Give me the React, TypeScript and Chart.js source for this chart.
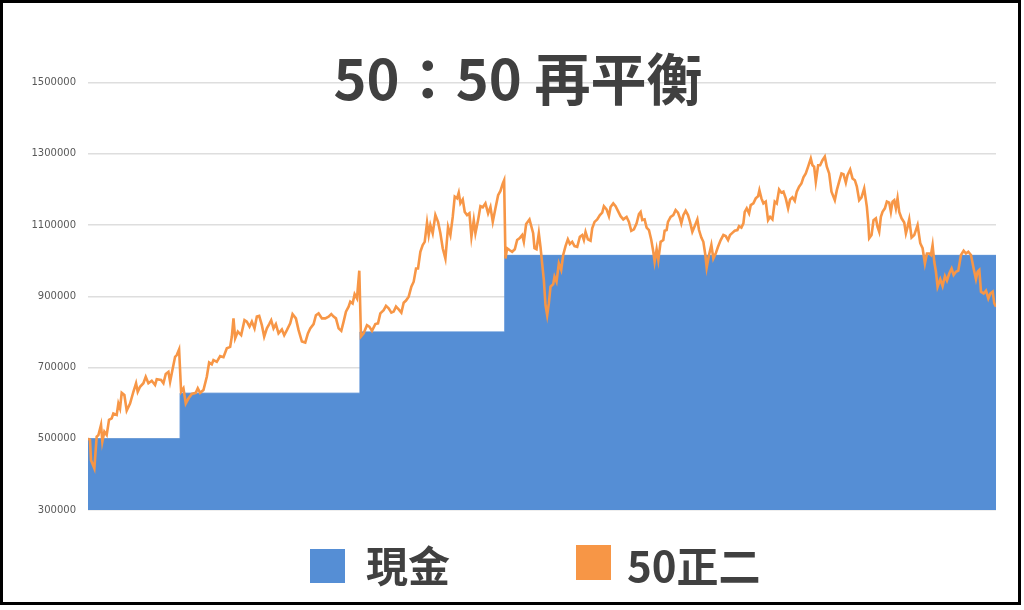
import React, { useEffect, useRef } from "react";
import { Chart, registerables } from "chart.js";

Chart.register(...registerables);

const TITLE = "50：50 再平衡";
const SERIES_CASH = "現金";
const SERIES_ETF = "50正二";

const Y_MIN = 300000;
const Y_MAX = 1600000;
const Y_TICKS = [300000, 500000, 700000, 900000, 1100000, 1300000, 1500000];
const DAY_LAST = 2721;

// cash held: [day index, value] (step changes at each rebalance)
const cashPoints: [number, number][] = [
  [0, 500000],
  [276, 628000],
  [815, 800000],
  [1249, 1015000],
  [2721, 1015000],
];

// 50正二 holding value: [day index, value]
const etfPoints: [number, number][] = [
  [0, 500000], [6, 497000], [9, 440000], [19, 417000], [26, 506000], [31, 510000], [39, 539000], [43, 492000],
  [49, 520000], [56, 511000], [63, 553000], [71, 557000], [76, 571000], [86, 567000], [91, 599000], [96, 585000],
  [101, 629000], [109, 623000], [116, 579000], [126, 599000], [136, 632000], [144, 656000], [149, 632000], [156, 646000],
  [166, 656000], [173, 674000], [181, 656000], [191, 663000], [201, 651000], [206, 667000], [219, 665000], [226, 656000],
  [233, 682000], [241, 688000], [246, 660000], [253, 693000], [261, 730000], [266, 735000], [273, 751000], [279, 632000],
  [286, 642000], [293, 599000], [301, 613000], [311, 626000], [323, 629000], [329, 642000], [336, 629000], [346, 637000],
  [356, 674000], [363, 714000], [371, 709000], [376, 721000], [386, 716000], [396, 732000], [406, 729000], [416, 754000],
  [426, 758000], [431, 787000], [436, 838000], [441, 782000], [449, 801000], [459, 791000], [469, 833000], [476, 829000],
  [484, 815000], [491, 829000], [499, 810000], [506, 843000], [513, 845000], [521, 819000], [528, 787000], [536, 810000],
  [543, 822000], [549, 833000], [556, 810000], [563, 822000], [571, 796000], [581, 807000], [588, 791000], [596, 805000],
  [606, 824000], [613, 850000], [623, 838000], [631, 805000], [641, 773000], [651, 770000], [659, 796000], [666, 810000],
  [676, 822000], [683, 847000], [691, 852000], [701, 838000], [711, 838000], [721, 843000], [729, 850000], [736, 843000],
  [743, 838000], [751, 810000], [759, 803000], [766, 829000], [773, 857000], [781, 871000], [786, 885000], [793, 880000],
  [799, 906000], [806, 894000], [813, 972000], [818, 787000], [826, 796000], [836, 819000], [843, 815000], [851, 803000],
  [861, 822000], [869, 824000], [876, 852000], [886, 861000], [893, 873000], [901, 866000], [909, 854000], [916, 857000],
  [923, 871000], [931, 863000], [939, 854000], [946, 882000], [953, 888000], [961, 899000], [969, 927000], [976, 941000],
  [983, 978000], [989, 978000], [996, 1025000], [1003, 1044000], [1009, 1053000], [1016, 1107000], [1021, 1072000], [1026, 1100000],
  [1033, 1077000], [1041, 1128000], [1049, 1109000], [1056, 1077000], [1063, 1035000], [1071, 1006000], [1079, 1095000], [1086, 1072000],
  [1093, 1123000], [1099, 1180000], [1106, 1175000], [1111, 1191000], [1116, 1161000], [1123, 1172000], [1129, 1137000], [1136, 1128000],
  [1143, 1133000], [1149, 1067000], [1156, 1114000], [1161, 1077000], [1169, 1114000], [1176, 1153000], [1183, 1150000], [1191, 1161000],
  [1199, 1133000], [1206, 1151000], [1213, 1109000], [1221, 1147000], [1229, 1184000], [1236, 1196000], [1243, 1217000], [1247, 1226000],
  [1251, 1006000], [1256, 1035000], [1263, 1030000], [1271, 1025000], [1279, 1032000], [1286, 1058000], [1293, 1063000], [1301, 1072000],
  [1306, 1053000], [1313, 1103000], [1323, 1116000], [1334, 1077000], [1338, 1035000], [1344, 1032000], [1351, 1077000], [1356, 1039000],
  [1361, 992000], [1366, 946000], [1371, 875000], [1376, 847000], [1381, 880000], [1386, 927000], [1394, 934000], [1398, 955000],
  [1404, 941000], [1411, 992000], [1418, 974000], [1424, 1016000], [1431, 1041000], [1438, 1060000], [1444, 1047000], [1451, 1053000],
  [1458, 1041000], [1466, 1039000], [1474, 1067000], [1481, 1072000], [1486, 1058000], [1491, 1081000], [1498, 1060000], [1506, 1056000],
  [1511, 1091000], [1518, 1109000], [1526, 1116000], [1534, 1128000], [1541, 1135000], [1546, 1153000], [1554, 1144000], [1561, 1125000],
  [1566, 1151000], [1574, 1161000], [1581, 1153000], [1588, 1140000], [1596, 1125000], [1604, 1116000], [1614, 1123000], [1621, 1109000],
  [1628, 1084000], [1636, 1088000], [1644, 1105000], [1651, 1131000], [1656, 1137000], [1661, 1114000], [1668, 1116000], [1674, 1093000],
  [1681, 1086000], [1688, 1058000], [1694, 1025000], [1698, 997000], [1704, 1032000], [1709, 1002000], [1716, 1053000], [1724, 1058000],
  [1728, 1084000], [1734, 1086000], [1738, 1109000], [1746, 1123000], [1754, 1128000], [1761, 1142000], [1768, 1135000], [1774, 1119000],
  [1778, 1105000], [1784, 1128000], [1791, 1140000], [1798, 1128000], [1804, 1109000], [1811, 1081000], [1818, 1097000], [1826, 1116000],
  [1831, 1086000], [1838, 1065000], [1844, 1053000], [1850, 1016000], [1854, 981000], [1861, 1016000], [1868, 1044000], [1874, 1006000],
  [1881, 1020000], [1888, 1039000], [1896, 1058000], [1904, 1072000], [1911, 1069000], [1918, 1058000], [1924, 1072000], [1931, 1078000],
  [1938, 1084000], [1946, 1086000], [1951, 1097000], [1958, 1093000], [1964, 1105000], [1968, 1137000], [1974, 1147000], [1981, 1133000],
  [1986, 1156000], [1994, 1161000], [2001, 1175000], [2008, 1181000], [2012, 1198000], [2018, 1175000], [2024, 1161000], [2031, 1166000],
  [2038, 1114000], [2044, 1123000], [2051, 1116000], [2058, 1166000], [2064, 1161000], [2071, 1200000], [2078, 1191000], [2084, 1194000],
  [2091, 1175000], [2098, 1147000], [2104, 1172000], [2111, 1178000], [2118, 1168000], [2124, 1194000], [2131, 1208000], [2138, 1217000],
  [2144, 1234000], [2151, 1245000], [2158, 1264000], [2166, 1287000], [2171, 1268000], [2176, 1264000], [2181, 1222000], [2188, 1268000],
  [2194, 1268000], [2201, 1282000], [2208, 1292000], [2214, 1264000], [2221, 1245000], [2228, 1194000], [2238, 1170000], [2244, 1198000],
  [2251, 1222000], [2258, 1245000], [2264, 1243000], [2271, 1219000], [2276, 1240000], [2284, 1256000], [2291, 1231000], [2298, 1226000],
  [2304, 1208000], [2311, 1170000], [2318, 1178000], [2326, 1203000], [2334, 1151000], [2338, 1109000], [2341, 1063000], [2348, 1072000],
  [2354, 1114000], [2361, 1119000], [2366, 1095000], [2371, 1081000], [2376, 1123000], [2381, 1137000], [2388, 1147000], [2394, 1166000],
  [2401, 1163000], [2406, 1137000], [2411, 1166000], [2416, 1170000], [2421, 1147000], [2426, 1175000], [2431, 1137000], [2438, 1119000],
  [2446, 1107000], [2451, 1077000], [2456, 1095000], [2461, 1116000], [2468, 1065000], [2476, 1072000], [2481, 1086000], [2486, 1100000],
  [2494, 1049000], [2501, 1035000], [2508, 992000], [2514, 1020000], [2521, 1020000], [2526, 1016000], [2531, 1044000], [2536, 997000],
  [2541, 969000], [2546, 927000], [2554, 948000], [2561, 929000], [2568, 957000], [2574, 944000], [2581, 964000], [2588, 978000],
  [2594, 960000], [2601, 969000], [2608, 972000], [2616, 1016000], [2624, 1028000], [2631, 1020000], [2638, 1025000], [2646, 1016000],
  [2654, 978000], [2661, 948000], [2666, 969000], [2671, 974000], [2676, 913000], [2684, 908000], [2691, 916000], [2698, 894000],
  [2704, 908000], [2711, 913000], [2716, 880000], [2721, 871000],
];

const COLOR_CASH = "#558ED5";
const COLOR_ETF = "#F79646";
const TEXT_DARK = "#404040";
const CJK_FONT = '"Noto Sans CJK TC", "Noto Sans CJK SC", sans-serif';

const decorPlugin = {
  id: "decor",
  beforeDraw(chart: any) {
    const ctx = chart.ctx;
    ctx.save();
    ctx.fillStyle = "#ffffff";
    ctx.fillRect(0, 0, chart.width, chart.height);
    ctx.restore();
  },
  afterDraw(chart: any) {
    const ctx = chart.ctx;
    ctx.save();
    // title
    ctx.fillStyle = TEXT_DARK;
    ctx.font = `bold 56px ${CJK_FONT}`;
    ctx.textAlign = "center";
    ctx.textBaseline = "alphabetic";
    ctx.fillText(TITLE, 518, 100);

    // legend
    ctx.textAlign = "left";
    ctx.font = `bold 42px ${CJK_FONT}`;
    ctx.fillStyle = COLOR_CASH;
    ctx.fillRect(310, 549, 35, 34);
    ctx.fillStyle = TEXT_DARK;
    ctx.fillText(SERIES_CASH, 366, 582);
    ctx.fillStyle = COLOR_ETF;
    ctx.fillRect(576, 545, 35, 35);
    ctx.fillStyle = TEXT_DARK;
    ctx.fillText(SERIES_ETF, 627, 582);

    // frame
    ctx.strokeStyle = "#000000";
    ctx.lineWidth = 3;
    ctx.strokeRect(1.5, 1.5, 1018, 602);
    ctx.restore();
  },
};

export default function App() {
  const canvasRef = useRef<HTMLCanvasElement | null>(null);

  useEffect(() => {
    document.body.style.margin = "0";
    const canvas = canvasRef.current;
    if (!canvas) return;
    const chart = new Chart(canvas, {
      type: "line",
      data: {
        datasets: [
          {
            label: SERIES_ETF,
            data: etfPoints.map(([x, y]) => ({ x, y })),
            borderColor: COLOR_ETF,
            borderWidth: 2.6,
            pointRadius: 0,
            tension: 0,
            fill: false,
            order: 0,
          },
          {
            label: SERIES_CASH,
            data: cashPoints.map(([x, y]) => ({ x, y })),
            borderColor: COLOR_CASH,
            backgroundColor: COLOR_CASH,
            borderWidth: 1,
            pointRadius: 0,
            stepped: true,
            fill: "start",
            order: 1,
          },
        ],
      },
      options: {
        animation: false,
        responsive: false,
        devicePixelRatio: window.devicePixelRatio || 1,
        layout: { padding: { left: 0, right: 28, top: 47, bottom: 100 } },
        plugins: {
          legend: { display: false },
          title: { display: false },
          tooltip: { enabled: false },
        },
        scales: {
          x: { type: "linear", min: 0, max: DAY_LAST, display: false },
          y: {
            type: "linear",
            min: Y_MIN,
            max: Y_MAX,
            afterBuildTicks: (s: any) => {
              s.ticks = Y_TICKS.map((v) => ({ value: v }));
            },
            afterFit: (s: any) => {
              s.width = 88;
            },
            border: { display: false },
            grid: { color: "#dedede", lineWidth: 1.5, drawTicks: false },
            ticks: {
              padding: 12,
              color: "#595959",
              font: { family: "DejaVu Sans", size: 10 },
              callback: (v: any) => String(v),
            },
          },
        },
      },
      plugins: [decorPlugin],
    });
    return () => chart.destroy();
  }, []);

  return (
    <div style={{ width: 1024, height: 610, position: "relative" }}>
      <canvas ref={canvasRef} width={1024} height={610} style={{ display: "block" }} />
    </div>
  );
}
